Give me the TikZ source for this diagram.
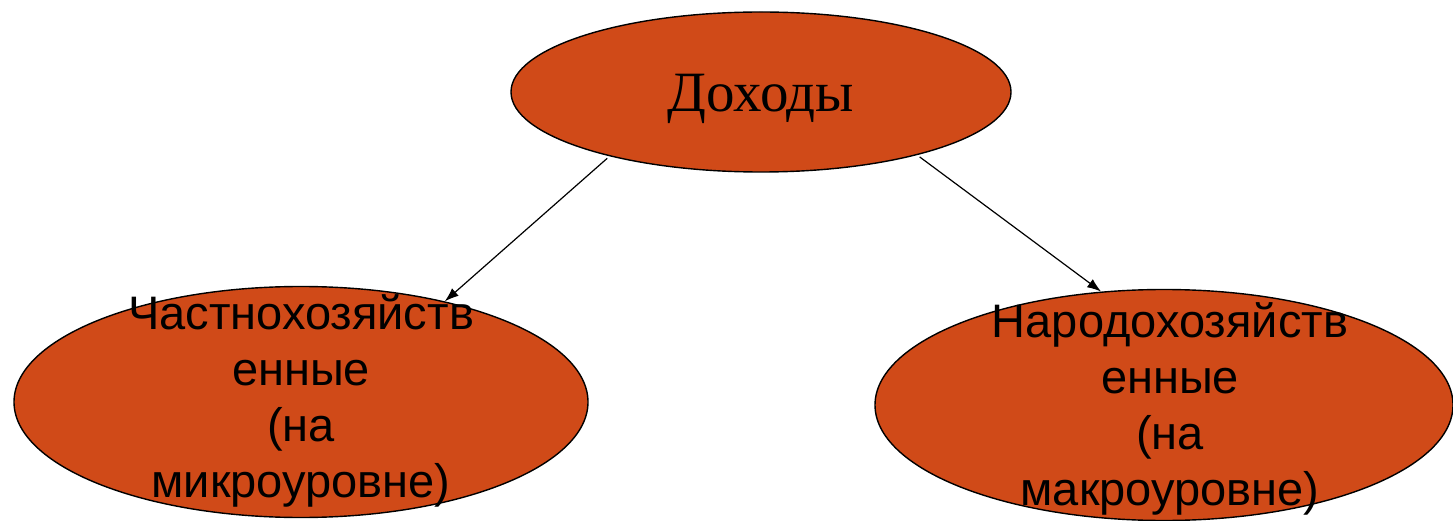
\documentclass[tikz,border=0pt]{standalone}
\usepackage{fontspec}
\setmainfont{Liberation Serif}
\newfontfamily\arialfont{Liberation Sans}
\usetikzlibrary{shapes.geometric,arrows.meta}
\definecolor{rust}{RGB}{208,74,24}
\begin{document}
\begin{tikzpicture}[x=1pt,y=-1pt]
\tikzstyle{oval} = [draw, line width=1.4pt, fill=rust, ellipse, inner sep=0pt]
\tikzstyle{label} = [align=center, font=\arialfont\fontsize{47}{56}\selectfont]
\tikzstyle{every path} = [line width=1.2pt]
\useasboundingbox (0,0) rectangle (1453,521);
\node[oval, minimum width=500pt, minimum height=160pt] (income) at (761,92) {};
\node[font=\fontsize{57}{64}\selectfont] (incometext) at (761,99) {Доходы};
\node[oval, minimum width=574pt, minimum height=231pt] (micro) at (301,402) {};
\node[label] (microtext) at (301,401) {Частнохозяйств\\енные\\(на\\микроуровне)};
\node[oval, minimum width=578pt, minimum height=231pt] (macro) at (1164,405) {};
\node[label] (macrotext) at (1170,409) {Народохозяйств\\енные\\(на\\макроуровне)};
\draw[-{Latex[length=14pt,width=10pt]}, shorten <=3pt] (income.203) -- (micro.35);
\draw[-{Latex[length=14pt,width=10pt]}, shorten <=3pt] (income.338) -- (macro.119);
\end{tikzpicture}
\end{document}
